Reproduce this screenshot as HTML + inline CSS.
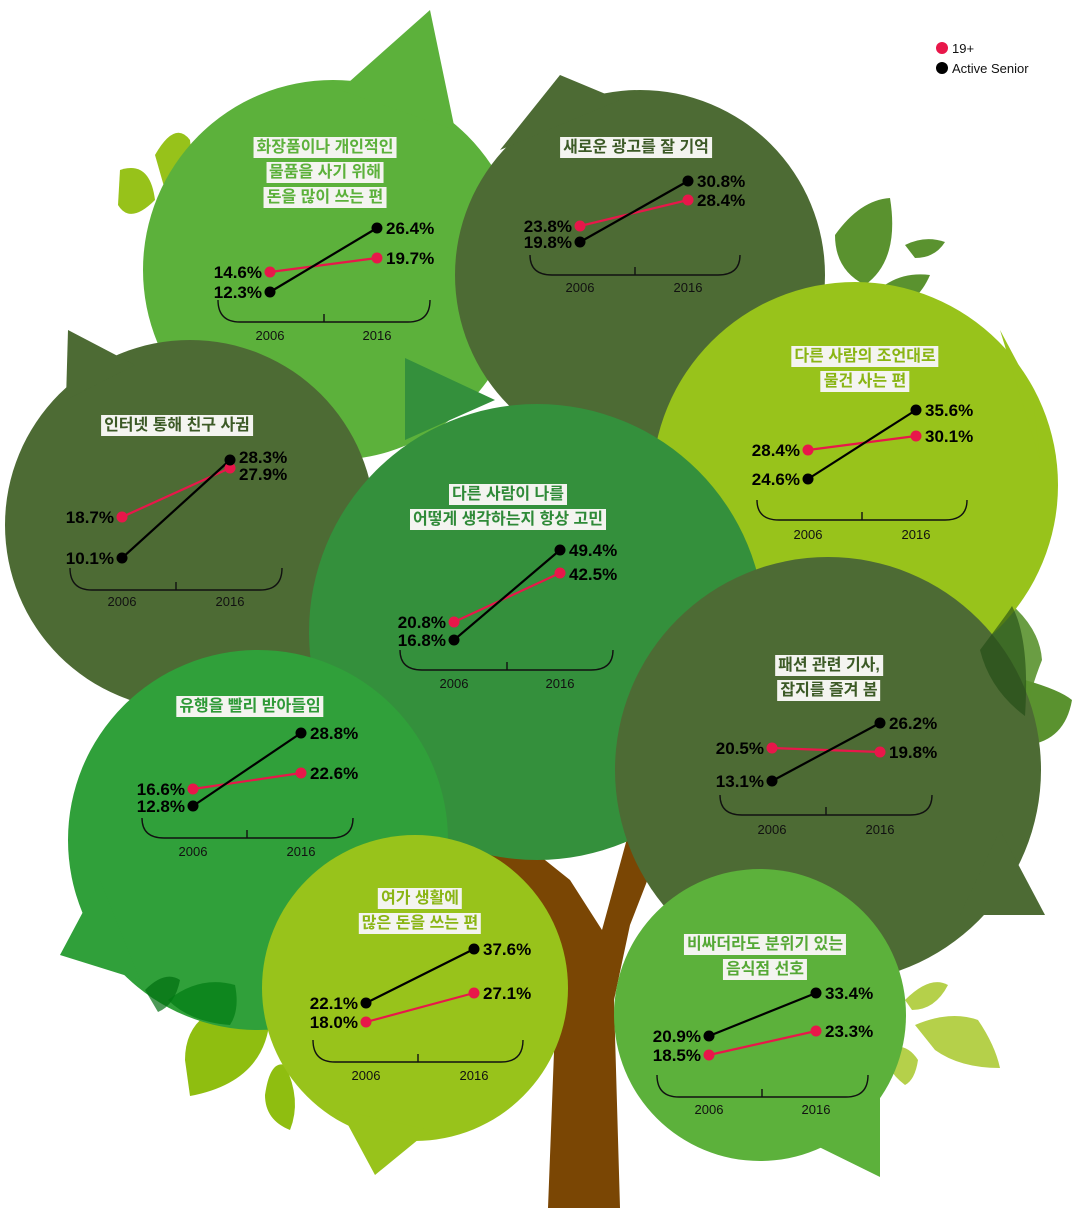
<!DOCTYPE html>
<html><head><meta charset="utf-8">
<style>
html,body{margin:0;padding:0;background:#fff}
#w{position:relative;width:1080px;height:1208px;overflow:hidden;font-family:"Liberation Sans","Noto Sans CJK KR",sans-serif}
svg{position:absolute;left:0;top:0}
.t{position:absolute;transform:translateX(-50%);text-align:center;white-space:nowrap;font-family:"Liberation Sans","Noto Sans CJK KR",sans-serif;font-size:16px;font-weight:bold;line-height:24px}
.t span{background:#f4f4f0;padding:0 3px;display:inline-block;line-height:21px;margin-bottom:3px}
.n{font-family:"Liberation Sans",sans-serif;font-weight:bold;font-size:17px;fill:#000}
.y{font-family:"Liberation Sans",sans-serif;font-size:13px;fill:#111}
</style></head><body><div id="w">
<svg width="1080" height="1208" viewBox="0 0 1080 1208">
<polygon fill="#7a4604" points="548,1208 620,1208 614,1000 630,925 665,835 628,835 602,930 570,880 520,840 478,845 540,925 556,1000"/>
<path d="M120,170 Q150,160 155,200 Q130,225 118,205 Z" fill="#97c21a"/>
<path d="M155,155 Q175,120 190,140 Q195,175 165,190 Z" fill="#97c21a"/>
<path d="M835,235 Q860,200 890,198 Q900,260 865,285 Q835,270 835,235 Z" fill="#5a922f"/>
<path d="M865,305 Q890,270 930,275 Q915,310 880,310 Z" fill="#5a922f"/>
<path d="M905,245 Q925,235 945,242 Q935,258 915,258 Z" fill="#5a922f"/>
<path d="M185,1060 Q185,1000 270,1000 Q275,1080 190,1096 Z" fill="#8fbe10"/>
<path d="M265,1095 Q270,1060 285,1065 Q302,1100 290,1130 Q265,1120 265,1095 Z" fill="#8fbe10"/>
<path d="M905,1000 Q930,975 948,985 Q935,1010 912,1010 Z" fill="#b5d04a"/>
<path d="M915,1025 Q950,1010 978,1020 Q995,1045 1000,1068 Q960,1068 935,1050 Z" fill="#b5d04a"/>
<path d="M885,1050 Q905,1040 918,1060 Q915,1080 905,1085 Q885,1070 885,1050 Z" fill="#b5d04a"/>
<path d="M1025,680 Q1060,690 1072,700 Q1065,740 1028,745 Q1020,710 1025,680 Z" fill="#5a922f"/>
<path d="M983,645 Q1005,612 1012,605 Q1040,630 1042,660 Q1030,690 1025,718 Q985,690 983,645 Z" fill="#5a922f" opacity=".9"/>
<g fill="#5cb13b"><circle cx="333" cy="270" r="190"/><polygon points="340,90 430,10 455,130"/></g>
<g fill="#4d6b34"><circle cx="640" cy="275" r="185"/><polygon points="500,150 560,75 620,100"/></g>
<g fill="#98c31b"><circle cx="855" cy="485" r="203"/><polygon points="1000,330 1032,390 1040,460"/></g>
<g fill="#4d6b34"><circle cx="190" cy="525" r="185"/><polygon points="66,400 68,330 135,365"/></g>
<g fill="#34903c"><circle cx="537" cy="632" r="228"/><polygon points="405,440 405,358 495,400"/></g>
<g fill="#30a03a"><circle cx="258" cy="840" r="190"/><polygon points="100,880 60,955 140,980"/></g>
<g fill="#4d6b34"><circle cx="828" cy="770" r="213"/><polygon points="1000,830 1045,915 960,915"/></g>
<g fill="#98c31b"><circle cx="415" cy="988" r="153"/><polygon points="340,1110 375,1175 430,1130"/></g>
<g fill="#5cb13b"><circle cx="760" cy="1015" r="146"/><polygon points="880,1090 880,1177 815,1145"/></g>
<path d="M145,990 Q165,970 180,980 Q175,1005 158,1012 Z" fill="#006d10" opacity=".7"/>
<path d="M980,650 Q1010,610 1012,606 Q1030,640 1025,716 Q990,690 980,650Z" fill="#1f4a14" opacity=".6"/>
<path d="M168,1000 Q200,975 235,985 Q240,1010 230,1025 Q190,1022 168,1000 Z" fill="#007a12" opacity=".7"/>
<g stroke-width="2.2" fill="none">
<path d="M218,300 Q218,322 240,322 L408,322 Q430,322 430,300 M324,322 V314" stroke="#111" stroke-width="1.4"/>
<line x1="270" y1="272" x2="377" y2="258" stroke="#e8174a"/><line x1="270" y1="292" x2="377" y2="228" stroke="#000"/>
<path d="M530,255 Q530,275 552,275 L718,275 Q740,275 740,255 M635,275 V267" stroke="#111" stroke-width="1.4"/>
<line x1="580" y1="226" x2="688" y2="200" stroke="#e8174a"/><line x1="580" y1="242" x2="688" y2="181" stroke="#000"/>
<path d="M757,500 Q757,520 779,520 L945,520 Q967,520 967,500 M862,520 V512" stroke="#111" stroke-width="1.4"/>
<line x1="808" y1="450" x2="916" y2="436" stroke="#e8174a"/><line x1="808" y1="479" x2="916" y2="410" stroke="#000"/>
<path d="M70,568 Q70,590 92,590 L260,590 Q282,590 282,568 M176,590 V582" stroke="#111" stroke-width="1.4"/>
<line x1="122" y1="517" x2="230" y2="468" stroke="#e8174a"/><line x1="122" y1="558" x2="230" y2="460" stroke="#000"/>
<path d="M400,650 Q400,670 422,670 L591,670 Q613,670 613,650 M507,670 V662" stroke="#111" stroke-width="1.4"/>
<line x1="454" y1="622" x2="560" y2="573" stroke="#e8174a"/><line x1="454" y1="640" x2="560" y2="550" stroke="#000"/>
<path d="M142,818 Q142,838 164,838 L331,838 Q353,838 353,818 M247,838 V830" stroke="#111" stroke-width="1.4"/>
<line x1="193" y1="789" x2="301" y2="773" stroke="#e8174a"/><line x1="193" y1="806" x2="301" y2="733" stroke="#000"/>
<path d="M720,795 Q720,815 742,815 L910,815 Q932,815 932,795 M826,815 V807" stroke="#111" stroke-width="1.4"/>
<line x1="772" y1="748" x2="880" y2="752" stroke="#e8174a"/><line x1="772" y1="781" x2="880" y2="723" stroke="#000"/>
<path d="M313,1040 Q313,1062 335,1062 L501,1062 Q523,1062 523,1040 M418,1062 V1054" stroke="#111" stroke-width="1.4"/>
<line x1="366" y1="1022" x2="474" y2="993" stroke="#e8174a"/><line x1="366" y1="1003" x2="474" y2="949" stroke="#000"/>
<path d="M657,1075 Q657,1097 679,1097 L846,1097 Q868,1097 868,1075 M762,1097 V1089" stroke="#111" stroke-width="1.4"/>
<line x1="709" y1="1055" x2="816" y2="1031" stroke="#e8174a"/><line x1="709" y1="1036" x2="816" y2="993" stroke="#000"/>
</g>
<g fill="#e8174a">
<circle cx="270" cy="272" r="5.5"/><circle cx="377" cy="258" r="5.5"/>
<circle cx="580" cy="226" r="5.5"/><circle cx="688" cy="200" r="5.5"/>
<circle cx="808" cy="450" r="5.5"/><circle cx="916" cy="436" r="5.5"/>
<circle cx="122" cy="517" r="5.5"/><circle cx="230" cy="468" r="5.5"/>
<circle cx="454" cy="622" r="5.5"/><circle cx="560" cy="573" r="5.5"/>
<circle cx="193" cy="789" r="5.5"/><circle cx="301" cy="773" r="5.5"/>
<circle cx="772" cy="748" r="5.5"/><circle cx="880" cy="752" r="5.5"/>
<circle cx="366" cy="1022" r="5.5"/><circle cx="474" cy="993" r="5.5"/>
<circle cx="709" cy="1055" r="5.5"/><circle cx="816" cy="1031" r="5.5"/>
<circle cx="942" cy="48" r="6"/>
</g>
<g fill="#000">
<circle cx="270" cy="292" r="5.5"/><circle cx="377" cy="228" r="5.5"/>
<circle cx="580" cy="242" r="5.5"/><circle cx="688" cy="181" r="5.5"/>
<circle cx="808" cy="479" r="5.5"/><circle cx="916" cy="410" r="5.5"/>
<circle cx="122" cy="558" r="5.5"/><circle cx="230" cy="460" r="5.5"/>
<circle cx="454" cy="640" r="5.5"/><circle cx="560" cy="550" r="5.5"/>
<circle cx="193" cy="806" r="5.5"/><circle cx="301" cy="733" r="5.5"/>
<circle cx="772" cy="781" r="5.5"/><circle cx="880" cy="723" r="5.5"/>
<circle cx="366" cy="1003" r="5.5"/><circle cx="474" cy="949" r="5.5"/>
<circle cx="709" cy="1036" r="5.5"/><circle cx="816" cy="993" r="5.5"/>
<circle cx="942" cy="68" r="6"/>
</g>
<g class="n">
<text x="262" y="278" text-anchor="end">14.6%</text><text x="262" y="298" text-anchor="end">12.3%</text>
<text x="386" y="234">26.4%</text><text x="386" y="264">19.7%</text>
<text x="572" y="232" text-anchor="end">23.8%</text><text x="572" y="248" text-anchor="end">19.8%</text>
<text x="697" y="187">30.8%</text><text x="697" y="206">28.4%</text>
<text x="800" y="456" text-anchor="end">28.4%</text><text x="800" y="485" text-anchor="end">24.6%</text>
<text x="925" y="416">35.6%</text><text x="925" y="442">30.1%</text>
<text x="114" y="523" text-anchor="end">18.7%</text><text x="114" y="564" text-anchor="end">10.1%</text>
<text x="239" y="463">28.3%</text><text x="239" y="480">27.9%</text>
<text x="446" y="628" text-anchor="end">20.8%</text><text x="446" y="646" text-anchor="end">16.8%</text>
<text x="569" y="556">49.4%</text><text x="569" y="580">42.5%</text>
<text x="185" y="795" text-anchor="end">16.6%</text><text x="185" y="812" text-anchor="end">12.8%</text>
<text x="310" y="739">28.8%</text><text x="310" y="779">22.6%</text>
<text x="764" y="754" text-anchor="end">20.5%</text><text x="764" y="787" text-anchor="end">13.1%</text>
<text x="889" y="729">26.2%</text><text x="889" y="758">19.8%</text>
<text x="358" y="1009" text-anchor="end">22.1%</text><text x="358" y="1028" text-anchor="end">18.0%</text>
<text x="483" y="955">37.6%</text><text x="483" y="999">27.1%</text>
<text x="701" y="1042" text-anchor="end">20.9%</text><text x="701" y="1061" text-anchor="end">18.5%</text>
<text x="825" y="999">33.4%</text><text x="825" y="1037">23.3%</text>
</g>
<g class="y" text-anchor="middle">
<text x="270" y="340">2006</text><text x="377" y="340">2016</text>
<text x="580" y="292">2006</text><text x="688" y="292">2016</text>
<text x="808" y="539">2006</text><text x="916" y="539">2016</text>
<text x="122" y="606">2006</text><text x="230" y="606">2016</text>
<text x="454" y="688">2006</text><text x="560" y="688">2016</text>
<text x="193" y="856">2006</text><text x="301" y="856">2016</text>
<text x="772" y="834">2006</text><text x="880" y="834">2016</text>
<text x="366" y="1080">2006</text><text x="474" y="1080">2016</text>
<text x="709" y="1114">2006</text><text x="816" y="1114">2016</text>
</g>
<text x="952" y="53" class="y" style="font-size:13px">19+</text>
<text x="952" y="73" class="y" style="font-size:13px">Active Senior</text>
</svg>
<div class="t" style="left:325px;top:136px;color:#5cb13b"><span>화장품이나 개인적인</span><br><span>물품을 사기 위해</span><br><span>돈을 많이 쓰는 편</span></div>
<div class="t" style="left:636px;top:136px;color:#3c5a26"><span>새로운 광고를 잘 기억</span></div>
<div class="t" style="left:865px;top:345px;color:#8ab514"><span>다른 사람의 조언대로</span><br><span>물건 사는 편</span></div>
<div class="t" style="left:177px;top:414px;color:#3c5a26"><span>인터넷 통해 친구 사귐</span></div>
<div class="t" style="left:508px;top:483px;color:#2f8a38"><span>다른 사람이 나를</span><br><span>어떻게 생각하는지 항상 고민</span></div>
<div class="t" style="left:250px;top:695px;color:#2f9a38"><span>유행을 빨리 받아들임</span></div>
<div class="t" style="left:829px;top:654px;color:#3c5a26"><span>패션 관련 기사,</span><br><span>잡지를 즐겨 봄</span></div>
<div class="t" style="left:420px;top:887px;color:#8ab514"><span>여가 생활에</span><br><span>많은 돈을 쓰는 편</span></div>
<div class="t" style="left:765px;top:933px;color:#55a835"><span>비싸더라도 분위기 있는</span><br><span>음식점 선호</span></div>
</div></body></html>
